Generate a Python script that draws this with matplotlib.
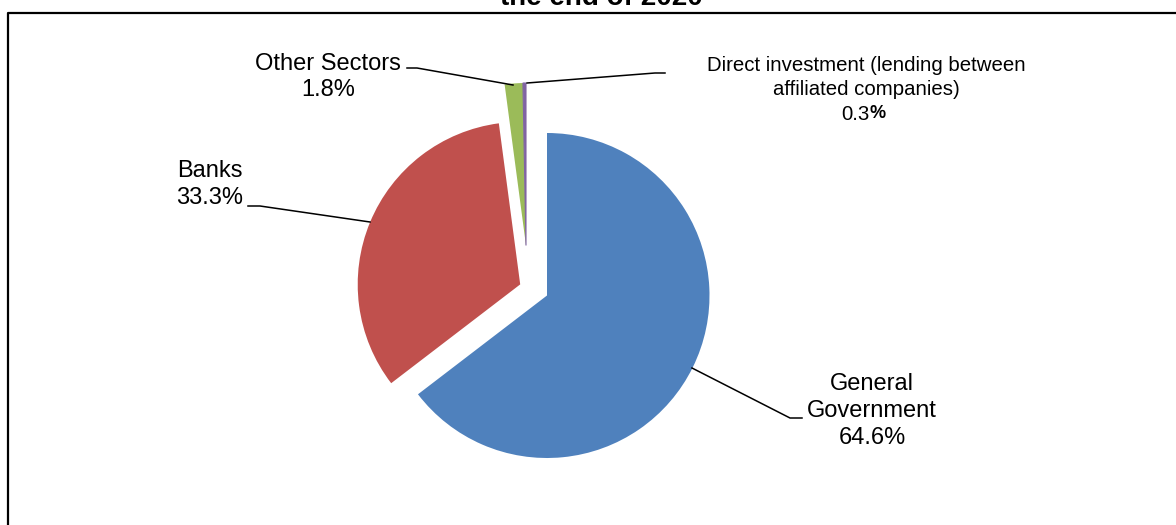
import matplotlib
matplotlib.use("Agg")
import matplotlib.pyplot as plt

plt.rcParams['font.family'] = ['Liberation Sans', 'DejaVu Sans']

# ---- data ----
sectors = ["General\nGovernment", "Banks", "Other Sectors",
           "Direct investment (lending between\naffiliated companies)"]
shares = [64.6, 33.3, 1.8, 0.3]
share_labels = ["64.6%", "33.3%", "1.8%", "0.3"]
colors = ["#4F81BD", "#C0504D", "#9BBB59", "#8064A2"]
title_text = "the end of 2020"

W, H = 1176, 525
fig = plt.figure(figsize=(W / 100, H / 100), dpi=100)
ax = fig.add_axes([0, 0, 1, 1])


def Y(y):  # image-row -> data y
    return H - y


cx, cy, r = 547, Y(295.5), 162.5
wedges, _ = ax.pie(shares, colors=colors, startangle=90, counterclock=False,
                   explode=[0, 29, 0, 0], radius=r, center=(cx, cy),
                   wedgeprops=dict(linewidth=0), frame=True)
ax.set_xlim(0, W)
ax.set_ylim(0, H)
ax.set_aspect("auto")
ax.axis("off")
# small slices are pulled out up-left
for w in wedges[2:]:
    x0, y0 = w.center
    w.set_center((x0 - 21, y0 + 50))
wedges[3].set_edgecolor(colors[3])
wedges[3].set_linewidth(0.8)

# frame
ax.plot([7.5, 7.5, W + 5], [-5, Y(13), Y(13)], color="black", lw=1.6,
        clip_on=False, solid_capstyle="butt")

# title (only last line visible)
ax.text(601, Y(5), title_text, ha="center", va="baseline", fontsize=20,
        fontweight="bold")

lc = dict(color="black", lw=1.1)
fs = 17

# General Government
ax.plot([692, 790, 802], [Y(368), Y(418), Y(418)], **lc)
ax.text(872, Y(411), sectors[0] + "\n" + share_labels[0], ha="center",
        va="center", fontsize=fs, linespacing=1.32)

# Banks
ax.plot([370, 260, 248], [Y(222), Y(206), Y(206)], **lc)
ax.text(210, Y(184.5), sectors[1] + "\n" + share_labels[1], ha="center",
        va="center", fontsize=fs, linespacing=1.25)

# Other Sectors
ax.plot([513, 417, 407], [Y(85), Y(68), Y(68)], **lc)
ax.text(328, Y(77), sectors[2] + "\n" + share_labels[2], ha="center",
        va="center", fontsize=fs, linespacing=1.25)

# Direct investment
ax.plot([527, 655, 665], [Y(83), Y(73), Y(73)], **lc)
ax.text(866, Y(77.5), sectors[3], ha="center", va="center", fontsize=14.7,
        linespacing=1.35)
ax.text(870, Y(114), share_labels[3], ha="right", va="center", fontsize=14.7)
ax.text(870, Y(114), "%", ha="left", va="center", fontsize=13,
        fontweight="bold")

fig.savefig("out.png", dpi=100)
